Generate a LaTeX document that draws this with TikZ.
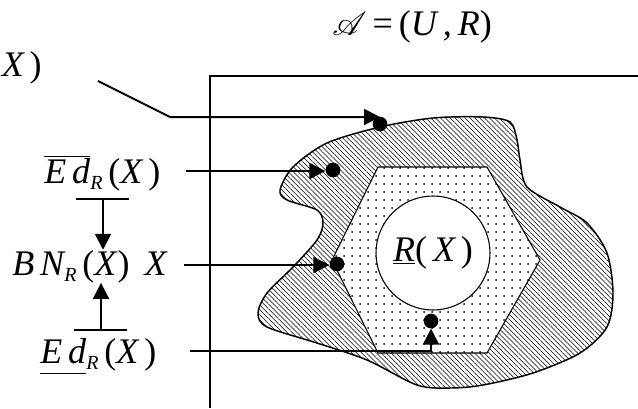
\documentclass[tikz,border=0pt]{standalone}
\usepackage{fontspec}
\setmainfont{Liberation Serif}
\usepackage{mathrsfs}
\usetikzlibrary{arrows.meta, patterns.meta}

\tikzset{
  lbl/.style={inner sep=0pt, anchor=base west, font=\fontsize{27}{30}\selectfont\itshape},
  ptr/.style={line width=1.5pt, -{Triangle[width=12pt,length=12pt]}},
  bar/.style={line width=1.5pt},
  dot/.style={circle, fill, inner sep=0pt, minimum size=11pt},
}
\newcommand{\sbR}{\raisebox{-5pt}{\fontsize{15}{15}\selectfont R}}

\begin{document}
\begin{tikzpicture}[x=0.75pt, y=-0.75pt]
  \useasboundingbox (0,0) rectangle (638,408);
  \draw[line width=1.1pt] (210,408) -- (210,76) -- (638,76);
  % boundary region
  \draw[line width=1.1pt, pattern={Lines[angle=-45,distance=2.6pt,line width=0.4pt]}]
    plot[smooth cycle] coordinates {(380,127) (433,118) (483,117) (510,122) (517,140)
      (520,160) (527,187) (560,207) (587,223) (607,253) (613,293) (607,327) (580,353)
      (533,373) (483,385) (450,388) (417,385) (367,360) (317,343) (267,327) (258,313)
      (267,293) (293,267) (317,240) (323,223) (317,210) (287,200) (280,190) (293,167)
      (327,143)};
  \draw[line width=0.8pt, fill=white] (378,167) -- (487,167) -- (540,260) -- (487,353) -- (378,353) -- (332,260) -- cycle;
  \fill[pattern={Dots[radius=0.75pt,distance=6pt]}] (378,167) -- (487,167) -- (540,260) -- (487,353) -- (378,353) -- (332,260) -- cycle;
  \node[circle, draw, line width=0.8pt, fill=white, minimum size=85.5pt, inner sep=0pt,
    font=\fontsize{27}{30}\selectfont\itshape] (rx) at (433,253) {$\underline{\hbox{R}}$\textup{(}\,X\,\textup{)}};

  \node[lbl] (alg) at (332,35) {$\mathscr{A}$\,\textup{=}\,\textup{(}U\,,\,R\textup{)}};
  \node[lbl, anchor=base east] (upx) at (42,76) {X\,\textup{)}};
  \node[lbl] (edu) at (44,183) {$\overline{\hbox{E\,d}}$\sbR\,\textup{(}X\,\textup{)}};
  \node[lbl] (bn) at (12,275) {B\,N\sbR\,\textup{(}X\textup{)}\, X};
  \node[lbl] (edl) at (40,363) {$\underline{\hbox{E\,d\rule[-6pt]{0pt}{0pt}}}$\sbR\,\textup{(}X\,\textup{)}};

  \node[dot] (d1) at (380,124) {};
  \node[dot] (d2) at (333,170) {};
  \node[dot] (d3) at (337,264) {};
  \node[dot] (d4) at (431,321) {};

  \coordinate (p1s) at (98,81);
  \coordinate (p1k) at (170,117);
  \coordinate (p2s) at (186,171);
  \coordinate (p3s) at (184,265);
  \coordinate (p4s) at (190,351);
  \draw[ptr] (p1s) -- (p1k) -- (p1k -| d1);
  \draw[ptr] (p2s) -- (p2s -| d2.west);
  \draw[ptr] (p3s) -- (p3s -| d3.west);
  \draw[ptr] (p4s) -- (p4s -| d4) -- (d4.south);

  \coordinate (b1) at (103,199);
  \coordinate (b2) at (101,330);
  \draw[bar] (76,199) -- (129,199);
  \draw[bar] (74,330) -- (127,330);
  \draw[ptr] (b1) -- (b1 |- bn.north);
  \draw[ptr] (b2) -- (b2 |- bn.south);
\end{tikzpicture}
\end{document}
